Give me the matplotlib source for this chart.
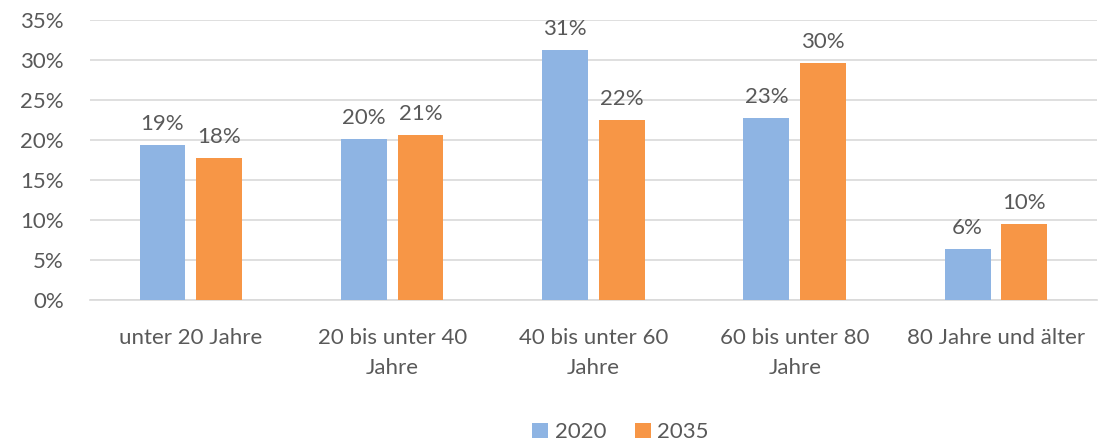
import numpy as np
import matplotlib.pyplot as plt
from matplotlib.ticker import PercentFormatter

categories = ['unter 20 Jahre', '20 bis unter 40\nJahre', '40 bis unter 60\nJahre',
              '60 bis unter 80\nJahre', '80 Jahre und älter']
values_2020 = [19.4, 20.1, 31.2, 22.7, 6.4]
values_2035 = [17.7, 20.6, 22.5, 29.6, 9.5]
labels_2020 = ['19%', '20%', '31%', '23%', '6%']
labels_2035 = ['18%', '21%', '22%', '30%', '10%']

plt.rcParams['font.family'] = ['Lato', 'DejaVu Sans']
text_color = '#595959'
fs = 16

fig = plt.figure(figsize=(11, 4.43), dpi=100)
ax = fig.add_axes([0.082, 0.323, 0.915, 0.632])

x = np.arange(len(categories))
w = 0.228
off = 0.141
b1 = ax.bar(x - off, values_2020, w, color='#8eb4e3', label='2020', zorder=3)
b2 = ax.bar(x + off, values_2035, w, color='#f79646', label='2035', zorder=3)

for bars, labels in [(b1, labels_2020), (b2, labels_2035)]:
    for bar, lab in zip(bars, labels):
        ax.annotate(lab, (bar.get_x() + bar.get_width() / 2, bar.get_height()),
                    xytext=(0, 8), textcoords='offset points',
                    ha='center', va='bottom', fontsize=fs, color=text_color)

ax.set_ylim(0, 35)
ax.set_xlim(-0.5, len(categories) - 0.5)
ax.set_yticks(np.arange(0, 36, 5))
ax.yaxis.set_major_formatter(PercentFormatter(decimals=0))
ax.set_xticks(x)
ax.set_xticklabels(categories, linespacing=1.65)
ax.grid(axis='y', color='#d9d9d9', linewidth=1.2, zorder=0)
for s in ['top', 'right', 'left']:
    ax.spines[s].set_visible(False)
ax.spines['bottom'].set_color('#d9d9d9')
ax.spines['bottom'].set_linewidth(1.2)
ax.tick_params(axis='both', length=0, labelsize=fs, labelcolor=text_color)
ax.tick_params(axis='x', pad=20)
ax.tick_params(axis='y', pad=19)

ax.legend(loc='lower center', bbox_to_anchor=(0.527, -0.58), ncol=2, frameon=False,
          fontsize=fs, labelcolor=text_color, handlelength=0.7, handleheight=0.7,
          handletextpad=0.3, columnspacing=1.3)

fig.savefig('out.png', dpi=100)
